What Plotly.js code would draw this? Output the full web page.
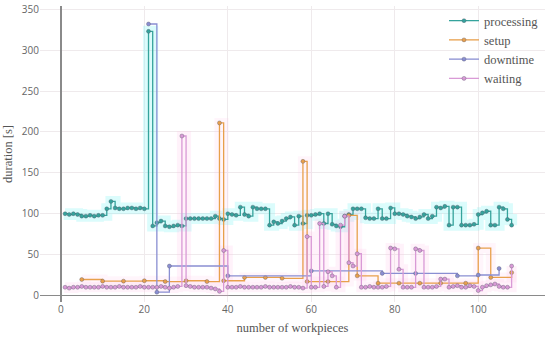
<!DOCTYPE html>
<html><head><meta charset="utf-8">
<script src="https://cdn.plot.ly/plotly-3.0.1.min.js"></script>
<style>html,body{margin:0;padding:0;background:#fff;}#chart{width:550px;height:340px;}</style>
</head><body><div id="chart"></div>
<script>
const workpieces = [1,2,3,4,5,6,7,8,9,10,11,12,13,14,15,16,17,18,19,20,21,22,23,24,25,26,27,28,29,30,31,32,33,34,35,36,37,38,39,40,41,42,43,44,45,46,47,48,49,50,51,52,53,54,55,56,57,58,59,60,61,62,63,64,65,66,67,68,69,70,71,72,73,74,75,76,77,78,79,80,81,82,83,84,85,86,87,88,89,90,91,92,93,94,95,96,97,98,99,100,101,102,103,104,105,106,107,108];

const processing = [
  100, 99, 100, 99, 97, 97, 98, 97, 98, 98,
  106, 115, 107, 106, 106, 107, 107, 106, 107, 106,
  323, 85, 89, 91, 85, 84, 85, 86, 85, 94,
  94, 94, 94, 94, 94, 94, 97, 94, 93, 100,
  99, 98, 108, 99, 97, 108, 106, 106, 106, 86,
  90, 88, 91, 94, 96, 86, 97, 88, 98, 98,
  99, 100, 88, 100, 87, 85, 84, 97, 99, 106,
  106, 106, 95, 94, 94, 106, 94, 94, 107, 100,
  100, 99, 97, 96, 94, 96, 99, 94, 97, 108,
  107, 109, 86, 108, 108, 86, 86, 86, 87, 99,
  101, 103, 86, 86, 108, 106, 93, 86];

const waiting = [
  10, 9, 10, 10, 11, 10, 10, 10, 10, 11,
  10, 10, 10, 11, 10, 10, 10, 10, 11, 10,
  10, 10, 10, 11, 10, 9, 10, 11, 195, 12,
  11, 10, 10, 10, 10, 9, 8, 5, 55, 10,
  10, 10, 11, 10, 10, 10, 10, 10, 11, 10,
  10, 10, 10, 10, 11, 10, 10, 9, 72, 10,
  10, 88, 11, 29, 24, 10, 86, 97, 40, 36,
  51, 10, 10, 11, 10, 10, 10, 11, 58, 57,
  32, 10, 10, 10, 57, 55, 10, 10, 10, 11,
  20, 20, 10, 11, 12, 10, 10, 12, 11, 6,
  10, 12, 13, 14, 11, 10, 10, 36];

const setupX = [5, 10, 15, 20, 25, 30, 35, 38, 39, 44, 49, 53, 58, 59, 64, 69, 71, 76, 81, 86, 91, 97, 100, 103, 108];
const setupY = [19.5, 17.5, 17.5, 18, 17, 18, 17, 211, 18, 22, 22, 21, 164, 17, 17, 98, 24, 15, 15, 15, 15, 15, 58, 22, 28];

const downtimeX = [21, 23, 26, 40, 60, 77, 85, 95, 100, 105];
const downtimeY = [332, 4, 36, 24, 30, 27, 27, 24, 25, 33];

const seriesNames = ['processing', 'setup', 'downtime', 'waiting'];
const seriesColors = ['#35a39c', '#e8a04c', '#8a8fd2', '#d99ad6'];

function glow(x, y, color, w) {
  return {x: x, y: y, type: 'scatter', mode: 'lines', line: {shape: 'hv', color: color, width: w},
    showlegend: false, hoverinfo: 'skip'};
}
function series(x, y, i, rank) {
  return {x: x, y: y, type: 'scatter', mode: 'lines+markers', name: seriesNames[i],
    legendrank: rank,
    line: {shape: 'hv', color: seriesColors[i], width: 1.3},
    marker: {size: 4, color: seriesColors[i], line: {width: 0.6, color: 'rgba(80,80,100,0.6)'}}};
}

const data = [
  glow(workpieces, processing, 'rgba(110,245,245,0.25)', 11),
  glow(workpieces, waiting, 'rgba(255,190,230,0.2)', 10),
  glow(setupX, setupY, 'rgba(255,190,230,0.16)', 10),
  series(workpieces, processing, 0, 1),
  series(setupX, setupY, 1, 2),
  series(downtimeX, downtimeY, 2, 3),
  series(workpieces, waiting, 3, 4)
];

const layout = {
  width: 550, height: 340,
  margin: {l: 40, r: 5, t: 6, b: 38},
  paper_bgcolor: '#fff', plot_bgcolor: '#fff',
  showlegend: true,
  legend: {x: 0.8, xanchor: 'left', y: 1.0, yanchor: 'top', bgcolor: 'rgba(0,0,0,0)',
    font: {family: 'Liberation Serif, serif', size: 12.5, color: '#555'}},
  xaxis: {range: [-5, 116], tickvals: [0, 20, 40, 60, 80, 100], ticks: '', showline: false,
    gridcolor: '#efeaec', zeroline: true, zerolinecolor: '#8a8a8a', zerolinewidth: 1.5,
    tickfont: {family: 'Open Sans, sans-serif', size: 10, color: '#666'},
    title: {text: 'number of workpieces', standoff: 8, font: {family: 'Liberation Serif, serif', size: 12.5, color: '#555'}}},
  yaxis: {range: [-8, 354], tickvals: [0, 50, 100, 150, 200, 250, 300, 350], ticks: '', showline: false,
    gridcolor: '#efeaec', zeroline: true, zerolinecolor: '#8a8a8a', zerolinewidth: 1.5,
    tickfont: {family: 'Open Sans, sans-serif', size: 10, color: '#666'},
    title: {text: 'duration [s]', standoff: 6, font: {family: 'Liberation Serif, serif', size: 12.5, color: '#555'}}}
};

Plotly.newPlot('chart', data, layout, {displayModeBar: false, staticPlot: true});
</script>
</body></html>
